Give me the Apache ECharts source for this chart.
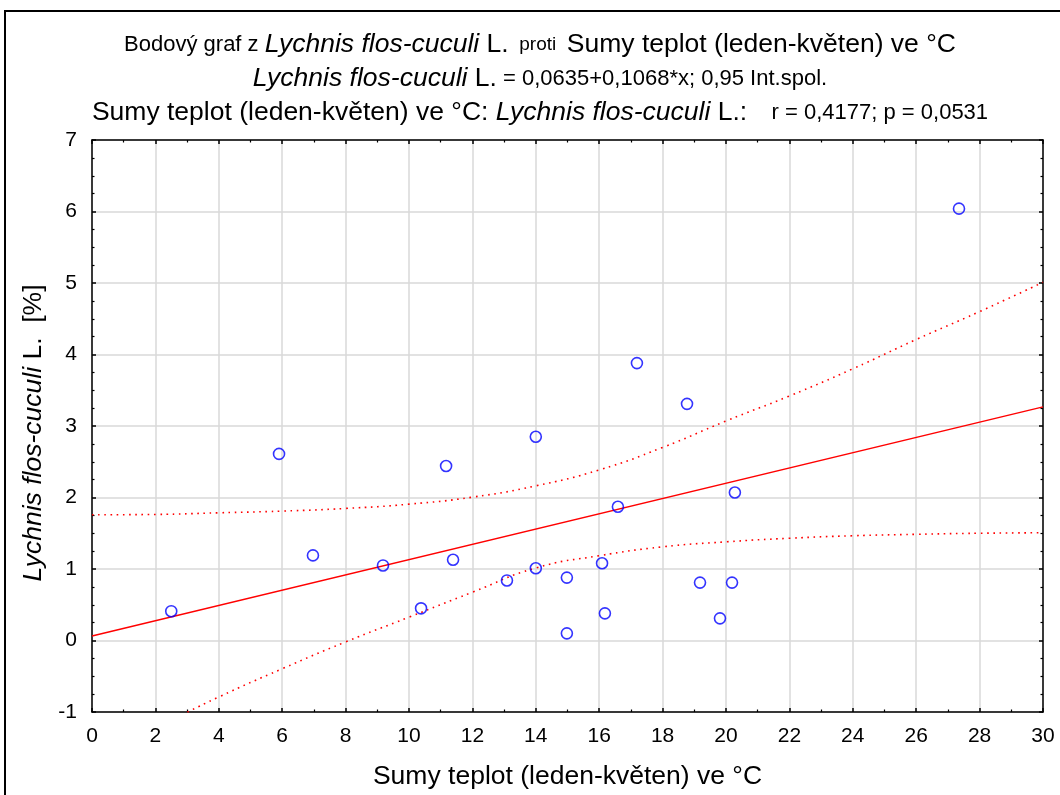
<!DOCTYPE html>
<html>
<head>
<meta charset="utf-8">
<script src="https://cdn.jsdelivr.net/npm/echarts@6/dist/echarts.min.js"></script>
<style>
html,body{margin:0;padding:0;background:#fff;}
#chart{width:1060px;height:795px;}
</style>
</head>
<body>
<div id="chart"></div>
<script>
// Observed points: Sumy teplot (x) vs Lychnis flos-cuculi L. [%] (y)
const tempSums = [2.50, 5.90, 6.97, 9.18, 10.38, 11.17, 11.39, 13.09, 14.00, 14.00, 14.98, 14.98, 16.09, 16.18, 16.59, 17.19, 18.77, 19.18, 19.81, 20.19, 20.28, 27.35];
const lychnis  = [0.41, 2.61, 1.19, 1.05, 0.45, 2.44, 1.13, 0.84, 2.85, 1.01, 0.88, 0.10, 1.08, 0.38, 1.87, 3.88, 3.31, 0.81, 0.31, 0.81, 2.07, 6.04];

const fitX = [0, 30];
const fitY = [0.0635, 3.2675];

// 95% confidence band
const bandX     = [0, 2, 4, 6, 8, 10, 12, 14, 16, 18, 20, 22, 24, 26, 28, 30];
const bandUpper = [1.758, 1.763, 1.786, 1.81, 1.847, 1.907, 2.005, 2.163, 2.386, 2.70, 3.07, 3.42, 3.80, 4.21, 4.60, 5.01];
const bandLower = [-1.63, -1.22, -0.79, -0.395, -0.02, 0.326, 0.675, 1.014, 1.186, 1.31, 1.38, 1.43, 1.465, 1.485, 1.50, 1.507];

const xTicks = {min: 0, max: 30, interval: 2};
const yTicks = {min: -1, max: 7, interval: 1};

const zip = (a, b) => a.map((v, i) => [v, b[i]]);

const FONT = 'Liberation Sans, Arial, sans-serif';
const chart = echarts.init(document.getElementById('chart'), null, {renderer: 'canvas'});

const base = {fontFamily: FONT, color: '#000', fontWeight: 'normal', lineHeight: 30};
const richStyles = {
  s: Object.assign({}, base, {fontSize: 22}),
  xs: Object.assign({}, base, {fontSize: 19}),
  m: Object.assign({}, base, {fontSize: 22}),
  b: Object.assign({}, base, {fontSize: 26.5}),
  i: Object.assign({}, base, {fontSize: 26.5, fontStyle: 'italic'})
};

const axisCommon = {
  axisLine: {show: true, onZero: false, lineStyle: {color: '#000', width: 1.5}},
  axisTick: {show: true, inside: true, length: 4, lineStyle: {color: '#000', width: 1.5}},
  minorTick: {show: true, length: 2.5, lineStyle: {color: '#000', width: 1.2}},
};

chart.setOption({
  animation: false,
  backgroundColor: '#fff',
  graphic: [{
    type: 'rect',
    shape: {x: 5, y: 11, width: 1100, height: 850},
    style: {fill: null, stroke: '#000', lineWidth: 2},
    silent: true
  }],
  title: [
    {left: 540, textAlign: 'center', top: 30, padding: 0, text: '{s|Bodový graf z }{i|Lychnis flos-cuculi}{b| L.}{xs|  proti  }{b|Sumy teplot (leden-květen) ve °C}', textStyle: {fontWeight: 'normal', rich: richStyles}},
    {left: 540, textAlign: 'center', top: 64, padding: 0, text: '{i|Lychnis flos-cuculi}{b| L.}{m| = 0,0635+0,1068*x; 0,95 Int.spol.}', textStyle: {fontWeight: 'normal', rich: richStyles}},
    {left: 540, textAlign: 'center', top: 98, padding: 0, text: '{b|Sumy teplot (leden-květen) ve °C: }{i|Lychnis flos-cuculi}{b| L.:}{m|    r = 0,4177; p = 0,0531}', textStyle: {fontWeight: 'normal', rich: richStyles}}
  ],
  grid: {left: 92, right: 17, top: 140, bottom: 82, containLabel: false},
  xAxis: [
    Object.assign({}, axisCommon, {
      type: 'value', position: 'bottom', min: xTicks.min, max: xTicks.max, interval: xTicks.interval,
      minorTick: Object.assign({}, axisCommon.minorTick, {splitNumber: 2}),
      axisLabel: {color: '#000', fontSize: 21, fontFamily: FONT, margin: 14},
      splitLine: {show: true, lineStyle: {color: '#d9d9d9', width: 1.5}},
      name: 'Sumy teplot (leden-květen) ve °C', nameLocation: 'middle', nameGap: 51,
      nameTextStyle: {color: '#000', fontSize: 26.5, fontFamily: FONT}
    }),
    Object.assign({}, axisCommon, {
      type: 'value', position: 'top', min: xTicks.min, max: xTicks.max, interval: xTicks.interval,
      minorTick: Object.assign({}, axisCommon.minorTick, {splitNumber: 2}),
      axisLabel: {show: false}, splitLine: {show: false}
    })
  ],
  yAxis: [
    Object.assign({}, axisCommon, {
      type: 'value', position: 'left', min: yTicks.min, max: yTicks.max, interval: yTicks.interval,
      minorTick: Object.assign({}, axisCommon.minorTick, {splitNumber: 4}),
      axisLabel: {color: '#000', fontSize: 21, fontFamily: FONT, margin: 15},
      splitLine: {show: true, lineStyle: {color: '#d9d9d9', width: 1.5}},
      name: '{i|Lychnis flos-cuculi}{b| L.  [%]}', nameLocation: 'middle', nameGap: 39, nameRotate: 90,
      nameTextStyle: {rich: richStyles, padding: [0, 14, 0, 0]}
    }),
    Object.assign({}, axisCommon, {
      type: 'value', position: 'right', min: yTicks.min, max: yTicks.max, interval: yTicks.interval,
      minorTick: Object.assign({}, axisCommon.minorTick, {splitNumber: 4}),
      axisLabel: {show: false}, splitLine: {show: false}
    })
  ],
  series: [
    {
      type: 'line', data: zip(bandX, bandUpper), smooth: true, showSymbol: false, clip: true,
      lineStyle: {color: '#ff0000', width: 1.6, type: [1.6, 4.6]}, z: 3
    },
    {
      type: 'line', data: zip(bandX, bandLower), smooth: true, showSymbol: false, clip: true,
      lineStyle: {color: '#ff0000', width: 1.6, type: [1.6, 4.6]}, z: 3
    },
    {
      type: 'line', data: zip(fitX, fitY), showSymbol: false, clip: true,
      lineStyle: {color: '#ff0000', width: 1.5}, z: 4
    },
    {
      type: 'scatter', data: zip(tempSums, lychnis), symbol: 'circle', symbolSize: 11,
      itemStyle: {color: 'rgba(0,0,0,0)', borderColor: '#0000ff', borderWidth: 1.6}, z: 5
    }
  ]
});
</script>
</body>
</html>
